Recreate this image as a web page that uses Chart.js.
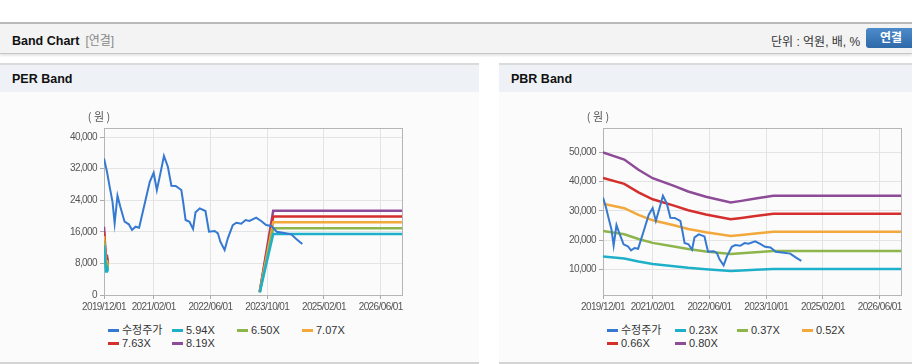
<!DOCTYPE html>
<html><head><meta charset="utf-8">
<script src="https://cdn.jsdelivr.net/npm/chart.js@4.4.0/dist/chart.umd.min.js"></script>
<style>
html,body{margin:0;padding:0}
body{width:912px;height:364px;overflow:hidden;background:#fff;position:relative;font-family:"Liberation Sans","Noto Sans CJK KR",sans-serif;color:#222}
#topbar{position:absolute;left:0;top:22px;width:912px;height:29px;background:#f3f3f3;border-top:2px solid #b9b9b9;border-bottom:1px solid #c6c6c6;box-shadow:0 2px 2px rgba(0,0,0,.10)}
#title{position:absolute;left:12px;top:7px;font-weight:bold;font-size:12.5px;color:#111}
#title span{font-weight:normal;color:#888;font-size:12px;margin-left:6px}
#unit{position:absolute;left:771px;top:8px;font-size:12px;color:#333}
#btn{position:absolute;left:866px;top:4px;width:52px;height:20px;border-radius:3px;background:linear-gradient(#4c8bcb,#2e69a8);color:#fff;font-weight:bold;font-size:12px;line-height:20px;text-indent:14px}
.panel{position:absolute;top:63px;height:297px;background:#fbfbfb;border-top:2px solid #dadada;border-bottom:2px solid #d4d4d4}
.phead{height:27px;background:#eef2f7;font-weight:bold;font-size:12.5px;line-height:28px;padding-left:12px;color:#111}
canvas{position:absolute}
.leg{position:absolute;font-size:11px;color:#333;white-space:nowrap;height:13px;line-height:13px}
.leg i{display:inline-block;width:11px;height:3px;vertical-align:middle;margin-right:3px;position:relative;top:-1px}
</style></head>
<body>
<div id="topbar"><div id="title">Band Chart<span>[연결]</span></div><div id="unit">단위 : 억원, 배, %</div><div id="btn">연결</div></div>
<div class="panel" style="left:0;width:479px"><div class="phead">PER Band</div></div>
<div class="panel" style="left:499px;width:413px"><div class="phead">PBR Band</div></div>
<canvas id="per" width="479" height="225" style="left:0;top:92px"></canvas>
<canvas id="pbr" width="413" height="225" style="left:499px;top:92px"></canvas>
<div id="legPer"></div><div id="legPbr"></div>
<script>
// ---- x axis (months since 2019/12/01) ----
const xTickLabels = ['2019/12/01','2021/02/01','2022/06/01','2023/10/01','2025/02/01','2026/06/01'];
const xEndLabel = '2026/12/01';
// ---- y axis ticks ----
const perYTicks = [0,8000,16000,24000,32000,40000];
const pbrYTicks = [10000,20000,30000,40000,50000];

// ---- 수정주가 (adjusted price) ----
const priceT = [0,0.85,1.6,2.4,3.0,3.8,4.6,5.8,7.0,7.9,8.9,9.9,11.5,12.9,14.0,14.9,15.9,16.9,18.0,19.0,20.2,21.8,22.3,23.0,24.1,25.1,25.8,27.0,28.6,29.6,31.2,32.1,32.8,34.0,34.9,36.3,37.3,38.7,39.9,41.0,42.9,44.3,45.7,47.2,48.7,50.4,52.8,54.2,55.9];
const priceV = [34600,31200,27400,23600,18150,25150,22360,18560,17900,16460,17300,17040,23220,28690,30970,26590,30800,35200,32490,27680,27600,26590,23620,18990,18560,16710,20940,21950,21270,16030,16200,15620,13500,11390,14350,17720,18310,18060,18990,18740,19580,18740,17720,17470,16030,15770,15370,14180,12910];

// ---- PER band ----
const perLabels = ['5.94X','6.50X','7.07X','7.63X','8.19X'];
const perT = [0,0.6,0.8,1.1,1.5,43.9,47.7,84];
const per594 = [12530,5940,7425,5940,null,611,15470,15470];
const per650 = [13720,6500,8125,6500,null,669,16930,16930];
const per707 = [14920,7070,8840,7070,null,727,18420,18420];
const per763 = [16100,7630,9540,7630,null,785,19880,19880];
const per819 = [17280,8190,10240,8190,null,840,21340,21340];

// ---- PBR band ----
const pbrLabels = ['0.23X','0.37X','0.52X','0.66X','0.80X'];
const pbrT = [0,6,10,14,20,24,29,36,39,43,48,84];
const pbr023 = [14375,13685,12673,11845,11086,10534,10028,9453,9614,9844,10109,10109];
const pbr037 = [23125,22015,20387,19055,17834,16946,16132,15207,15466,15836,16262,16262];
const pbr052 = [32500,30940,28652,26780,25064,23816,22672,21372,21736,22256,22854,22854];
const pbr066 = [41250,39270,36366,33990,31812,30228,28776,27126,27588,28248,29007,29007];
const pbr080 = [50000,47600,44080,41200,38560,36640,34880,32880,33440,34240,35160,35160];

const priceLabel = '수정주가';
const colors = {price:'#3579d0', c1:'#1fb0c9', c2:'#8db54c', c3:'#f3a83b', c4:'#d42f2c', c5:'#8e4b98'};

function monthIndex(lbl){const p=lbl.split('/');return (+p[0]-2019)*12+(+p[1]-12);}
const xTickVals = xTickLabels.map(monthIndex);
const xMax = monthIndex(xEndLabel);
const pts = (t,v)=>t.map((x,i)=>({x:x,y:v[i]}));

function lineDs(label,data,color,w){return {label,data,borderColor:color,backgroundColor:color,borderWidth:w,pointRadius:0,pointHoverRadius:0,tension:0,fill:false,spanGaps:false};}

const framePlugin = {id:'frame',
  beforeDraw(c){c.ctx.letterSpacing='-0.6px';},
  beforeDatasetsDraw(c){const {ctx,chartArea:a}=c;ctx.save();ctx.strokeStyle='#b5b5b5';ctx.lineWidth=1;
    ctx.strokeRect(Math.round(a.left)+0.5,Math.round(a.top)+0.5,Math.round(a.right-a.left),Math.round(a.bottom-a.top));ctx.restore();},
  afterDraw(c){const {ctx,chartArea:a}=c;ctx.save();ctx.letterSpacing='0px';ctx.fillStyle='#555';ctx.font='11px "Noto Sans CJK KR","Liberation Sans",sans-serif';
    ctx.textAlign='center';ctx.textBaseline='middle';ctx.fillText('( 원 )',a.left-5,a.top-11);ctx.restore();}
};

function makeChart(id,datasets,yMin,yMax,yTicks,padRight){
  return new Chart(document.getElementById(id),{
    type:'line',
    data:{datasets},
    plugins:[framePlugin],
    options:{
      responsive:false,animation:false,devicePixelRatio:1,
      layout:{padding:{top:36,right:padRight,left:0,bottom:0}},
      plugins:{legend:{display:false},tooltip:{enabled:false}},
      scales:{
        x:{type:'linear',min:0,max:xMax,
          afterBuildTicks:a=>{a.ticks=xTickVals.map(v=>({value:v}));},
          afterFit:s=>{s.height=22;},
          ticks:{autoSkip:false,maxRotation:0,padding:2,color:'#555',font:{size:10,family:'"Liberation Sans",sans-serif'},callback:(v,i)=>xTickLabels[i]},
          grid:{color:'#e4e4e4',tickLength:4,tickColor:'#aaa'},
          border:{color:'#aaa'}},
        y:{type:'linear',min:yMin,max:yMax,
          afterBuildTicks:a=>{a.ticks=yTicks.map(v=>({value:v}));},
          afterFit:s=>{s.width=104;},
          ticks:{autoSkip:false,padding:3,color:'#555',font:{size:10,family:'"Liberation Sans",sans-serif'},callback:(v,i)=>yTicks[i].toLocaleString('en-US')},
          grid:{color:'#e4e4e4',tickLength:4,tickColor:'#aaa'},
          border:{color:'#aaa'}}
      }
    }
  });
}

const perChart = makeChart('per',[
  lineDs(priceLabel,pts(priceT,priceV),colors.price,2),
  lineDs(perLabels[0],pts(perT,per594),colors.c1,2.5),
  lineDs(perLabels[1],pts(perT,per650),colors.c2,2.5),
  lineDs(perLabels[2],pts(perT,per707),colors.c3,2.5),
  lineDs(perLabels[3],pts(perT,per763),colors.c4,2.5),
  lineDs(perLabels[4],pts(perT,per819),colors.c5,2.5)
],0,42300,perYTicks,77);

const pbrChart = makeChart('pbr',[
  lineDs(priceLabel,pts(priceT,priceV),colors.price,2),
  lineDs(pbrLabels[0],pts(pbrT,pbr023),colors.c1,2.5),
  lineDs(pbrLabels[1],pts(pbrT,pbr037),colors.c2,2.5),
  lineDs(pbrLabels[2],pts(pbrT,pbr052),colors.c3,2.5),
  lineDs(pbrLabels[3],pts(pbrT,pbr066),colors.c4,2.5),
  lineDs(pbrLabels[4],pts(pbrT,pbr080),colors.c5,2.5)
],1200,58400,pbrYTicks,11);

function buildLegend(chart,el,cols){
  const host=document.getElementById(el);
  chart.data.datasets.forEach((d,i)=>{
    const div=document.createElement('div');div.className='leg';
    div.style.left=cols[i%4]+'px';div.style.top=(324+Math.floor(i/4)*13)+'px';
    div.innerHTML='<i style="background:'+d.borderColor+'"></i>'+d.label;
    host.appendChild(div);
  });
}
buildLegend(perChart,'legPer',[108,172,237,302]);
buildLegend(pbrChart,'legPbr',[607,675,737,802]);
</script>
</body></html>
